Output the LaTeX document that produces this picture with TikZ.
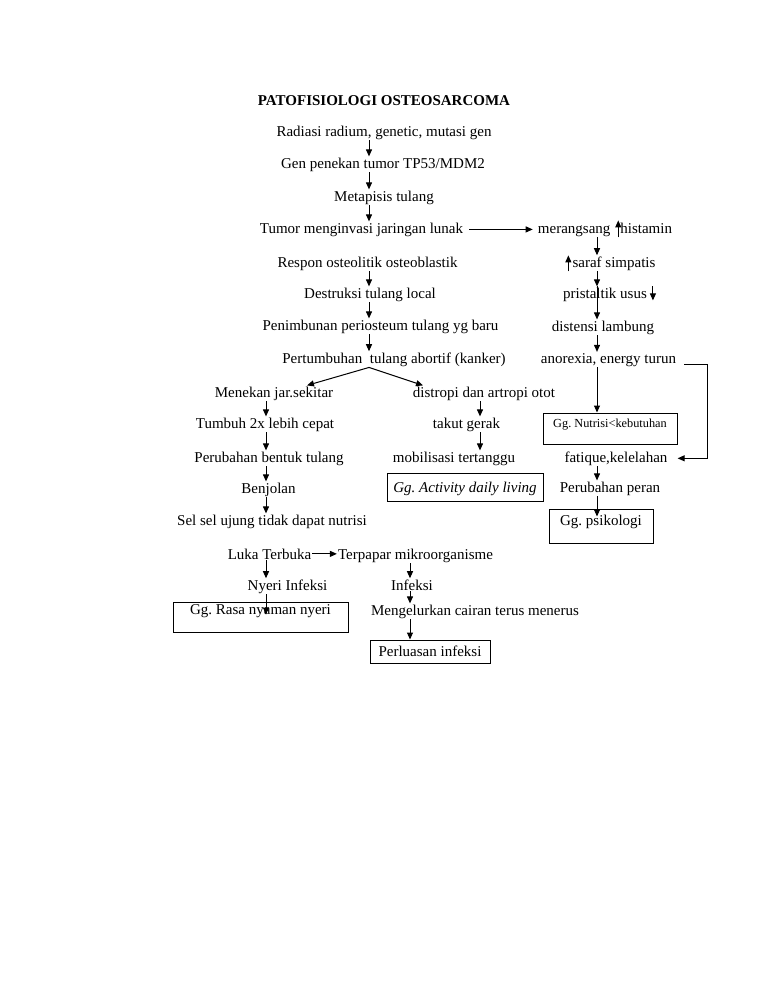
\documentclass[tikz,border=0pt]{standalone}
\usepackage{fontspec}
\setmainfont{Liberation Serif}
\usetikzlibrary{arrows.meta}
\tikzset{
  txt/.style={anchor=base, inner sep=1pt, font=\fontsize{15}{18}\selectfont},
  arr/.style={-{Triangle[length=7pt,width=6pt]}, line width=1pt},
  box/.style={draw, line width=1pt, anchor=base, inner ysep=0pt, font=\fontsize{15}{18}\selectfont}
}
\frenchspacing
\begin{document}
\frenchspacing
\begin{tikzpicture}[x=1pt,y=-1pt]
\useasboundingbox (0,0) rectangle (768,994);
\fill[white] (0,0) rectangle (768,994);
% column coordinates
\coordinate (colA) at (369,0);
\coordinate (colB) at (597,0);
\coordinate (colL) at (266,0);
\coordinate (colM) at (480,0);
\coordinate (colN) at (410,0);
\coordinate (brk) at (707,0);
% main column
\node[txt, font=\fontsize{15}{18}\selectfont\bfseries] (title) at (384,105) {PATOFISIOLOGI OSTEOSARCOMA};
\node[txt] (rad) at (384,136) {Radiasi radium, genetic, mutasi gen};
\node[txt] (gen) at (383,168) {Gen penekan tumor TP53/MDM2};
\node[txt] (met) at (384,201) {Metapisis tulang};
\node[txt] (tum) at (361.5,233) {Tumor menginvasi jaringan lunak};
\node[txt] (res) at (367.5,267) {Respon osteolitik osteoblastik};
\node[txt] (des) at (370,298) {Destruksi tulang local};
\node[txt] (pen) at (380.5,330) {Penimbunan periosteum tulang yg baru};
\node[txt] (pert) at (394,363) {Pertumbuhan\ \ tulang abortif (kanker)};
% right column
\node[txt] (mer) at (605,233) {merangsang\hspace{10pt}histamin};
\node[txt] (sar) at (610,267) {\hspace{8pt}saraf simpatis};
\node[txt] (pri) at (605,298) {pristaltik usus\hspace{14pt}};
\node[txt] (disl) at (603,331) {distensi lambung};
\node[txt] (ano) at (608.5,363) {anorexia, energy turun};
\node[box, minimum width=134pt, text height=14pt, text depth=17pt, font=\fontsize{12.3}{14}\selectfont] (nut) at (610,427) {Gg. Nutrisi<kebutuhan};
\node[txt] (fat) at (616,462) {fatique,kelelahan};
\node[txt] (perp) at (610,492) {Perubahan peran};
\node[box, minimum width=104pt, text height=16pt, text depth=18pt] (psi) at (601,525) {Gg. psikologi};
% left branch
\node[txt] (men) at (274,397) {Menekan jar.sekitar};
\node[txt] (tumb) at (265,428) {Tumbuh 2x lebih cepat};
\node[txt] (perb) at (269,462) {Perubahan bentuk tulang};
\node[txt] (ben) at (268.5,493) {Benjolan};
\node[txt] (sel) at (272,525) {Sel sel ujung tidak dapat nutrisi};
% middle branch
\node[txt] (dist) at (484,397) {distropi dan artropi otot};
\node[txt] (tak) at (466.5,428) {takut gerak};
\node[txt] (mob) at (454,462) {mobilisasi tertanggu};
\node[box, minimum width=156pt, text height=19pt, text depth=9pt, font=\fontsize{15}{18}\selectfont\itshape] (act) at (465,492) {Gg. Activity daily living};
% bottom
\node[txt] (luka) at (269.5,559) {Luka Terbuka};
\node[txt] (ter) at (415.5,559) {Terpapar mikroorganisme};
\node[txt] (nye) at (287.5,590) {Nyeri Infeksi};
\node[txt] (inf) at (412,590) {Infeksi};
\node[box, minimum width=175pt, text height=12pt, text depth=18pt] (ras) at (260.5,614) {Gg. Rasa nyaman nyeri};
\node[txt] (meng) at (475,615) {Mengelurkan cairan terus menerus};
\node[box, minimum width=120pt, text height=16pt, text depth=7pt] (perl) at (430,656) {Perluasan infeksi};
% connectors main column
\draw[arr] (rad.south -| colA) -- (gen.north -| colA);
\draw[arr] (gen.south -| colA) -- (met.north -| colA);
\draw[arr] (met.south -| colA) -- (tum.north -| colA);
\draw[arr] ([xshift=5pt]tum.east) -- ([xshift=-4pt]tum.east -| mer.west);
\draw[arr] (res.south -| colA) -- (des.north -| colA);
\draw[arr] (des.south -| colA) -- (pen.north -| colA);
\draw[arr] (pen.south -| colA) -- (pert.north -| colA);
\draw[arr] (pert.south -| colA) -- ([xshift=33pt]men.north);
\draw[arr] (pert.south -| colA) -- ([xshift=-61pt]dist.north);
% right column
\draw[arr] (mer.south -| colB) -- (sar.north -| colB);
\draw[arr] (sar.south -| colB) -- (pri.north -| colB);
\draw[arr] (pri.north -| colB) -- (disl.north -| colB);
\draw[arr] (disl.south -| colB) -- (ano.north -| colB);
\draw[arr] (ano.south -| colB) -- (nut.north -| colB);
\draw[arr] ([xshift=7pt,yshift=-5pt]ano.east) -| (brk |- fat.east) -- ([xshift=9pt]fat.east);
\draw[arr] (fat.south -| colB) -- (perp.north -| colB);
\draw[arr] (perp.south -| colB) -- ([yshift=-8pt]psi.north -| colB);
% small in-text arrows
\draw[arr] ([xshift=-55pt]mer.south east) -- ++(0,-17);
\draw[arr] ([xshift=5pt]sar.south west) -- ++(0,-16);
\draw[arr] ([xshift=91pt,yshift=16pt]pri.south west) -- ++(0,14);
% left branch
\draw[arr] (men.south -| colL) -- (tumb.north -| colL);
\draw[arr] (tumb.south -| colL) -- (perb.north -| colL);
\draw[arr] (perb.south -| colL) -- (ben.north -| colL);
\draw[arr] (ben.south -| colL) -- (sel.north -| colL);
% middle branch
\draw[arr] (dist.south -| colM) -- (tak.north -| colM);
\draw[arr] (tak.south -| colM) -- (mob.north -| colM);
% bottom
\draw[arr] (luka.east) -- (luka.east -| ter.west);
\draw[arr] (luka.south -| colL) -- (nye.north -| colL);
\draw[arr] (ter.south -| colN) -- (inf.north -| colN);
\draw[arr] (nye.south -| colL) -- ([yshift=-13pt]ras.north -| colL);
\draw[arr] (inf.south -| colN) -- (meng.north -| colN);
\draw[arr] (meng.south -| colN) -- (perl.north -| colN);
\end{tikzpicture}
\end{document}
